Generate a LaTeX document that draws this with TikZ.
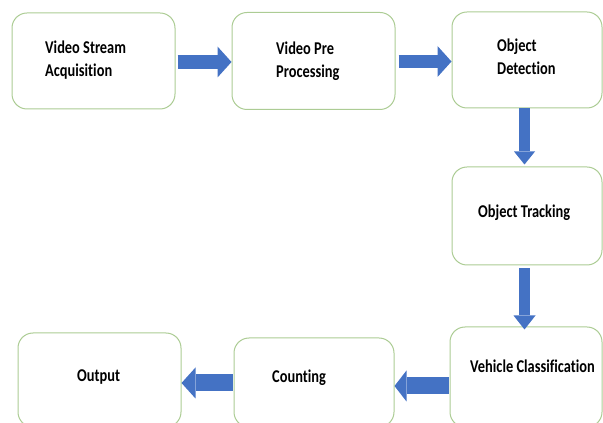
\documentclass[tikz,border=0pt]{standalone}
\usepackage{fontspec}
\setmainfont{Carlito}[FakeStretch=0.8,Ligatures=NoCommon]
\usetikzlibrary{arrows.meta}
\definecolor{boxedge}{RGB}{172,204,148}
\definecolor{arrowblue}{HTML}{4472C4}
\begin{document}
\begin{tikzpicture}[x=1pt,y=1pt,
  box/.style={draw=boxedge,line width=1pt,rounded corners=15pt,fill=white,inner sep=0pt},
  lbl/.style={anchor=west,inner sep=0pt,align=left,font=\fontsize{18pt}{23pt}\selectfont\bfseries,text=black},
  blockarrow/.style={draw=arrowblue,line width=#1,-{Triangle[width=31pt,length=14pt,line width=0pt,fill=arrowblue]}},
]
\useasboundingbox (0,0) rectangle (603,423);
\clip (0,0) rectangle (603,423);
% boxes
\node[box,minimum width=163pt,minimum height=96pt] (b1) at (93.5,362) {};
\node[box,minimum width=163pt,minimum height=97pt] (b2) at (313.5,362) {};
\node[box,minimum width=150pt,minimum height=96pt] (b3) at (527,363) {};
\node[box,minimum width=150pt,minimum height=98pt] (b4) at (527,207) {};
\node[box,minimum width=152pt,minimum height=100pt] (b5) at (526,46) {};
\node[box,minimum width=160pt,minimum height=89pt] (b6) at (314,40.5) {};
\node[box,minimum width=163pt,minimum height=94pt] (b7) at (99.5,43) {};
% labels
\node[lbl] (t1) at (45,362.5) {Video Stream\\Acquisition};
\node[lbl] (t2) at (276,362) {Video Pre\\Processing};
\node[lbl] (t3) at (497,366) {Object\\Detection};
\node[lbl] (t4) at (478,210.5) {Object Tracking};
\node[lbl] (t5) at (470,56.5) {Vehicle Classification};
\node[lbl] (t6) at (272,45.5) {Counting};
\node[lbl] (t7) at (77,45.5) {Output};
% arrows
\draw[blockarrow=14pt,shorten <=2pt] ([yshift=-1pt]b1.east) -- ([yshift=-1pt]b2.west);
\draw[blockarrow=13pt,shorten <=3pt] ([yshift=-0.5pt]b2.east) -- ([yshift=-1.5pt]b3.west);
\draw[blockarrow=10.5pt,-{Triangle[width=21pt,length=13pt,line width=0pt,fill=arrowblue]}] ([xshift=-2.5pt]b3.south) -- ([xshift=-2.5pt,yshift=2pt]b4.north);
\draw[blockarrow=10.5pt,shorten <=3pt,-{Triangle[width=22pt,length=14pt,line width=0pt,fill=arrowblue]}] ([xshift=-2.5pt]b4.south) -- ([xshift=-1.5pt,yshift=-3pt]b5.north);
\draw[blockarrow=17pt,shorten <=1pt,-{Triangle[width=31pt,length=12pt,line width=0pt,fill=arrowblue]}] ([yshift=-9pt]b5.west) -- ([yshift=-3.5pt]b6.east);
\draw[blockarrow=17pt,shorten <=1pt] ([yshift=-0.5pt]b6.west) -- ([yshift=-3pt]b7.east);
\end{tikzpicture}
\end{document}
